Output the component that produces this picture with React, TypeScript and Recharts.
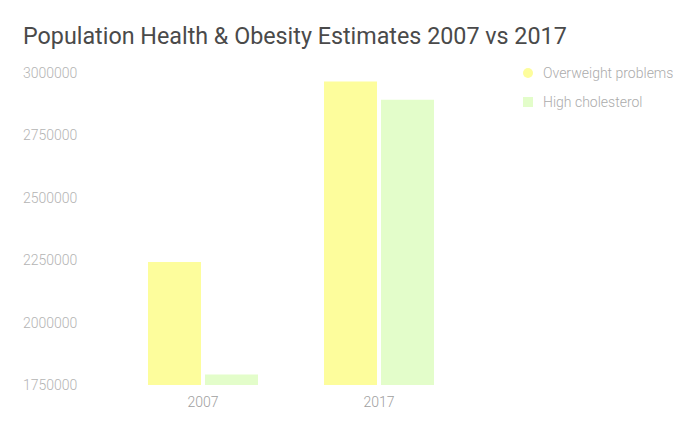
import React from 'react';
import { BarChart, Bar, XAxis, YAxis } from 'recharts';

const years = ['2007', '2017'];
const overweight = [2243000, 2966000];
const cholesterol = [1792000, 2893000];
const yTicks = [1750000, 2000000, 2250000, 2500000, 2750000, 3000000];

const YELLOW = '#fdfd9c';
const GREEN = '#e3fdca';

const data = years.map((year, i) => ({
  year,
  overweight: overweight[i],
  cholesterol: cholesterol[i],
}));

const YTick = ({ y, payload }: any) => (
  <text x={23} y={y} dy={5} fill="#b4b4b4" fontSize={14} fontWeight={300} fontFamily="Roboto" textAnchor="start">
    {payload.value}
  </text>
);

export default function App() {
  return (
    <div style={{ position: 'absolute', left: 0, top: 0, width: 700, height: 432, background: '#fff' }}>
      <div
        style={{
          position: 'absolute', left: 23, top: 22, fontFamily: 'Roboto', fontSize: 23.3,
          color: '#4a4a4a', whiteSpace: 'nowrap',
        }}
      >
        Population Health &amp; Obesity Estimates 2007 vs 2017
      </div>
      <BarChart
        width={700}
        height={432}
        data={data}
        margin={{ top: 73, right: 233, left: 23, bottom: 17 }}
        barCategoryGap={33}
        barGap={4}
      >
        <XAxis
          dataKey="year"
          axisLine={false}
          tickLine={false}
          tick={{ fill: '#a0a0a0', fontSize: 14, fontWeight: 300, fontFamily: 'Roboto' }}
          tickMargin={6}
        />
        <YAxis
          domain={[1750000, 3000000]}
          ticks={yTicks}
          axisLine={false}
          tickLine={false}
          width={92}
          tick={<YTick />}
          allowDataOverflow
        />
        <Bar dataKey="overweight" fill={YELLOW} isAnimationActive={false} />
        <Bar dataKey="cholesterol" fill={GREEN} isAnimationActive={false} />
      </BarChart>
      <svg style={{ position: 'absolute', left: 0, top: 0 }} width={700} height={432} pointerEvents="none">
        <circle cx={528} cy={73} r={5} fill={YELLOW} />
        <text x={543} y={78} fill="#ababab" fontSize={14} fontWeight={300} fontFamily="Roboto">Overweight problems</text>
        <rect x={523} y={97} width={10} height={10} fill={GREEN} />
        <text x={543} y={107} fill="#ababab" fontSize={14} fontWeight={300} fontFamily="Roboto">High cholesterol</text>
      </svg>
    </div>
  );
}
